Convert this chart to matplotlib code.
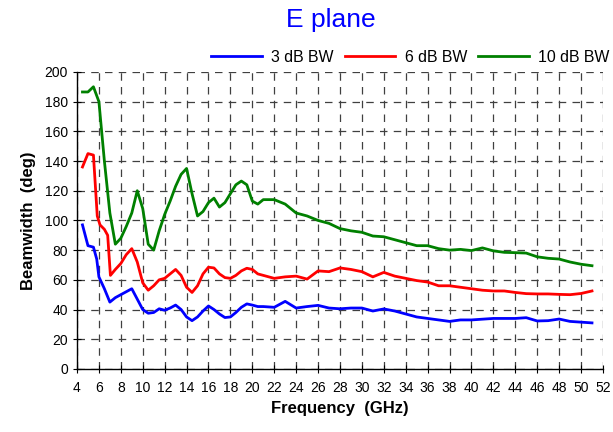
import matplotlib
matplotlib.use('Agg')
import matplotlib.pyplot as plt

plt.rcParams['font.family'] = ['Liberation Sans', 'DejaVu Sans']

# ── data ──
f_3db = [4.5, 5, 5.5, 5.8, 6, 6.5, 7, 7.5, 8, 8.5, 9, 9.5, 10, 10.5, 11, 11.5, 12,
         12.5, 13, 13.5, 14, 14.5, 15, 15.5, 16, 16.5, 17, 17.5, 18, 18.5, 19,
         19.5, 20, 20.5, 21, 22, 23, 24, 25, 26, 27, 28, 29, 30, 31, 32, 33, 34,
         35, 36, 37, 38, 39, 40, 41, 42, 43, 44, 45, 46, 47, 48, 49, 50, 51]
bw_3db = [97, 83, 82, 74, 62, 54, 45, 48, 50, 52, 54, 47, 40, 37.5, 38, 40.5, 39.5,
          41, 43, 40, 35, 32.5, 35, 39, 42.4, 40, 37, 34.6, 35, 38, 41.5,
          43.8, 43, 42, 42, 41.5, 45.5, 41, 42, 42.8, 41, 40.5, 41, 41, 39, 40.4, 39, 37,
          35, 34, 33, 32, 33, 33, 33.5, 34, 34, 34, 34.5, 32.3, 32.5, 33.6, 32, 31.5, 31]

f_6db = [4.5, 5, 5.5, 5.85, 6.1, 6.5, 6.8, 7.05, 7.5, 8, 8.5, 9, 9.5, 10, 10.5, 11,
         11.5, 12, 12.5, 13, 13.5, 14, 14.5, 15, 15.5, 16, 16.5, 17, 17.5, 18, 18.5,
         19, 19.5, 20, 20.5, 21, 22, 23, 24, 25, 26, 27, 28, 29, 30, 31, 32, 33, 34,
         35, 36, 37, 38, 39, 40, 41, 42, 43, 44, 45, 46, 47, 48, 49, 50, 51]
bw_6db = [136, 145, 144, 103, 97, 94, 90, 63, 67, 71, 77, 81, 72, 58, 53, 56,
          60, 61, 64, 67, 63, 55, 51.5, 56, 64, 68.5, 68, 64, 61.5, 61, 63,
          66, 67.8, 67, 64, 63, 61, 62, 62.5, 60.5, 66, 65.5, 68, 67, 65.5, 62, 65, 62.5, 61,
          59.5, 58.5, 56, 56, 55, 54, 53, 52.5, 52.5, 51.5, 50.7, 50.5, 50.5, 50.2, 50, 50.8, 52.5]

f_10db = [4.5, 5, 5.5, 6, 6.5, 7, 7.5, 8, 8.5, 9, 9.5, 10, 10.5, 11, 11.5, 12,
          12.5, 13, 13.5, 14, 14.5, 15, 15.5, 16, 16.5, 17, 17.5, 18, 18.5, 19,
          19.5, 20, 20.5, 21, 22, 23, 24, 25, 26, 27, 28, 29, 30, 31, 32, 33, 34,
          35, 36, 37, 38, 39, 40, 41, 42, 43, 44, 45, 46, 47, 48, 49, 50, 51]
bw_10db = [186.5, 186.5, 190, 180, 140, 105, 84, 88, 96, 105, 120, 108, 84, 80, 93, 104,
           113, 123, 131, 135, 118, 103, 106, 112, 115, 109, 112, 118, 124, 126.5,
           124, 113, 111, 114, 114, 111, 105, 103, 100, 98, 94.5, 93, 92, 89.5, 89, 87, 85,
           83, 83, 81, 80, 80.5, 79.7, 81.5, 79.5, 78.5, 78.3, 78, 75.5, 74.5, 74, 72, 70.5, 69.5]

fig = plt.figure(figsize=(6.13, 4.32), dpi=100)
ax = fig.add_axes([0.1256, 0.146, 0.858, 0.6875])

ax.plot(f_3db, bw_3db, color='#0000ff', lw=2, label='3 dB BW')
ax.plot(f_6db, bw_6db, color='#ff0000', lw=2, label='6 dB BW')
ax.plot(f_10db, bw_10db, color='#008000', lw=2, label='10 dB BW')

ax.set_xlim(4, 52)
ax.set_ylim(0, 200)
ax.set_xticks(range(4, 53, 2))
ax.set_yticks(range(0, 201, 20))
ax.grid(True, color='#404040', ls=(0, (6, 5)), lw=0.9)
ax.set_axisbelow(True)
for s in ('top', 'right'):
    ax.spines[s].set_visible(False)
for s in ('left', 'bottom'):
    ax.spines[s].set_linewidth(1.0)
ax.tick_params(direction='inout', length=6, labelsize=10)
ax.tick_params(axis='x', pad=6)

ax.set_xlabel('Frequency  (GHz)', fontsize=12, fontweight='bold', labelpad=4)
ax.set_ylabel('Beamwidth  (deg)', fontsize=12, fontweight='bold', labelpad=6)
fig.text(0.54, (432 - 20) / 432, 'E plane', color='#0000ff', fontsize=19,
         ha='center', va='center')

fig.legend(*ax.get_legend_handles_labels(), loc='center right',
           bbox_to_anchor=(1.0, (432 - 57) / 432), ncol=3, frameon=False,
           fontsize=11.4, handlelength=3.2, columnspacing=0.7, handletextpad=0.6,
           borderaxespad=0.0, borderpad=0.2)

fig.savefig('out.png', dpi=100)
